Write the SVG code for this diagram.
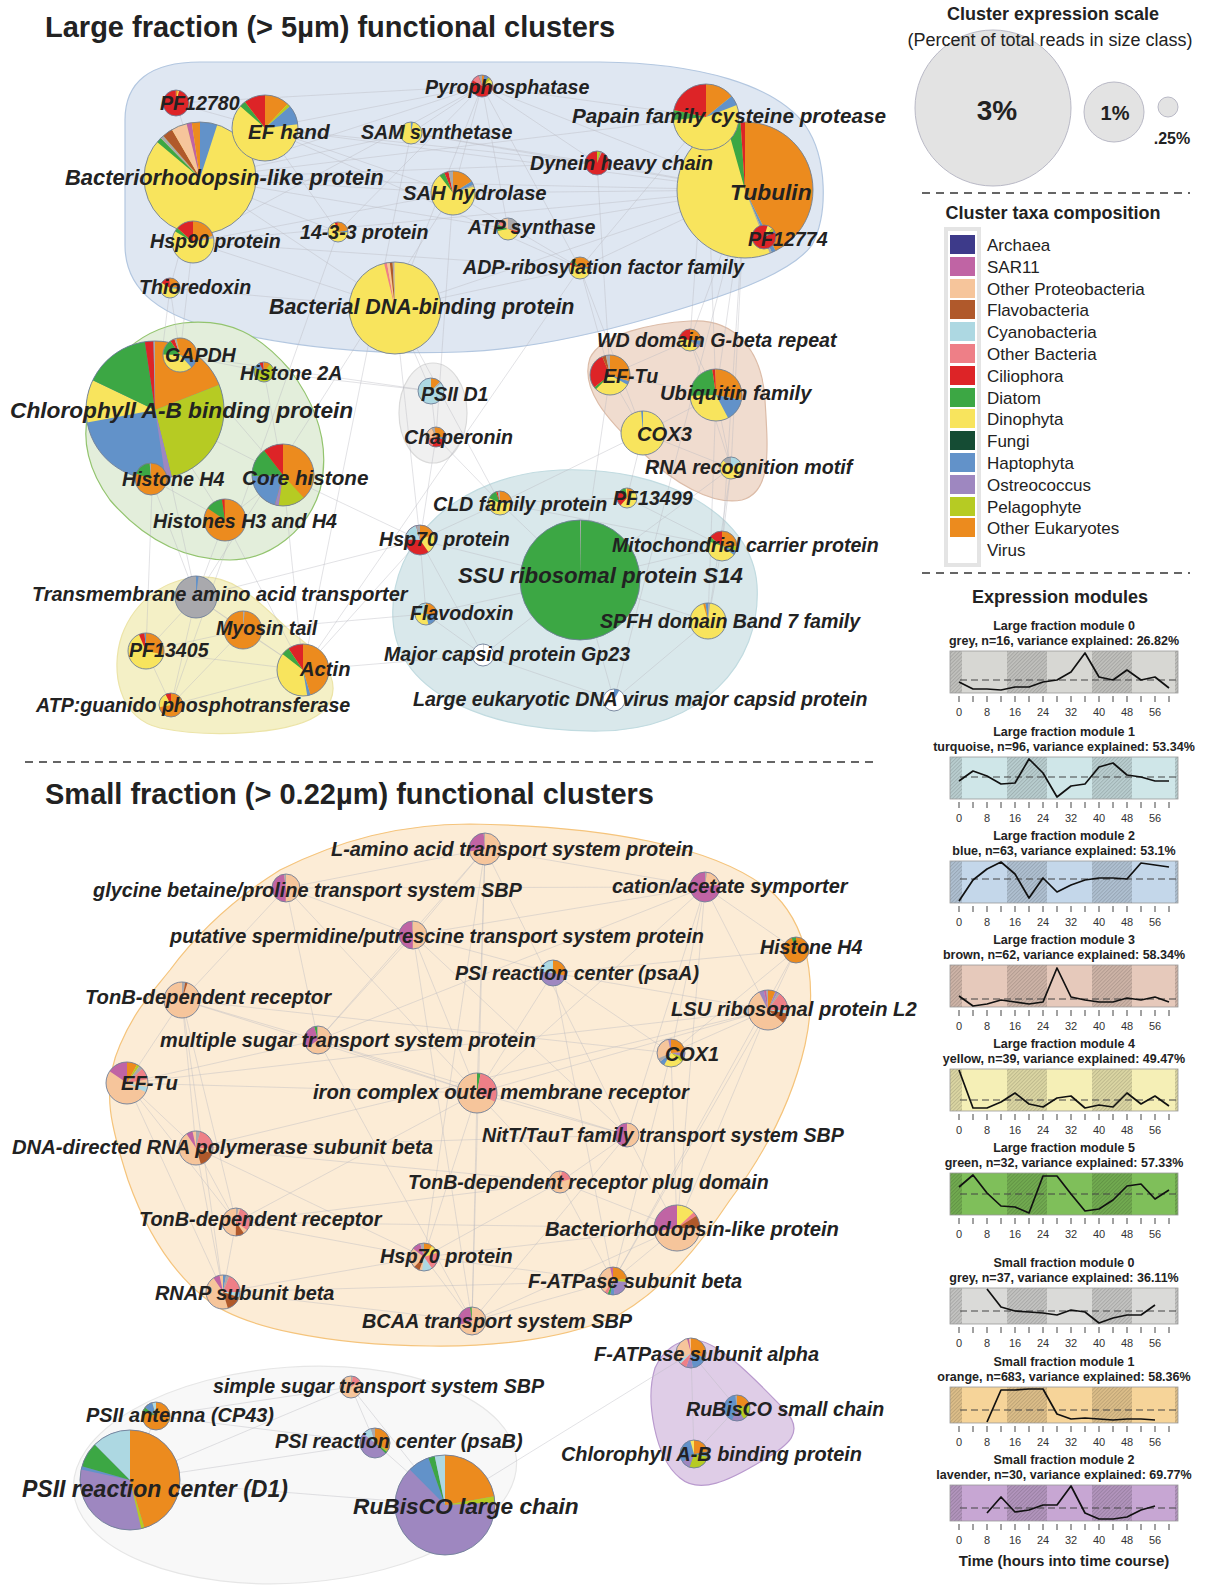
<svg xmlns="http://www.w3.org/2000/svg" xmlns:xlink="http://www.w3.org/1999/xlink" width="1215" height="1591" viewBox="0 0 1215 1591">
<defs>
<style>
text{font-family:"Liberation Sans",Arial,Helvetica,sans-serif;fill:#222}
.l{font-weight:bold;font-style:italic;font-size:19.6px}
.f2{font-size:19.9px}.f4{font-size:20.2px}.f5{font-size:20.7px}.f6{font-size:21.4px}.f7{font-size:21.9px}.f8{font-size:22.2px}.f9{font-size:22.7px}
.h1{font-weight:bold;font-size:29px}
.h2{font-weight:bold;font-size:18px;text-anchor:middle}
.sub{font-size:18px;text-anchor:middle}
.lg{font-size:17px}
.mt{font-weight:bold;font-size:12.5px;text-anchor:middle}
.ax{font-size:11px;text-anchor:middle;fill:#333}
.s{fill:none;stroke-width:31.83}
.o{fill:none;stroke:#6f7f98;stroke-width:.9;vector-effect:non-scaling-stroke}
.ar{stroke:#3d3a8a}.sa{stroke:#c064a4}.pr{stroke:#f6c59b}.fl{stroke:#b0592b}.cy{stroke:#add8e2}.ob{stroke:#ee7f87}.ci{stroke:#dd2427}.di{stroke:#3ca744}.dn{stroke:#f8e45d}.fu{stroke:#154c34}.ha{stroke:#6292c9}.os{stroke:#9e87c0}.pe{stroke:#b6cb23}.oe{stroke:#ec8b1e}.gr{stroke:#a9a9ad}
.e line{stroke:#b9b9c0;stroke-width:.7;stroke-opacity:.6}
.sep{stroke:#333;stroke-width:1.6;stroke-dasharray:8 6;fill:none}
.ts{fill:none;stroke:#111;stroke-width:1.7;stroke-linejoin:round}
.mean{stroke:#444;stroke-width:1.1;stroke-dasharray:7 4}
.tk{stroke:#444;stroke-width:1;fill:none}
.pf{fill:none;stroke:#9a9a9a;stroke-width:.8}
.hu{stroke-width:1.2}
.sc{fill:#e3e3e3;stroke:#b9b9c6;stroke-width:1}
</style>
<pattern id="hatch" width="2.6" height="2.6" patternUnits="userSpaceOnUse" patternTransform="rotate(45)">
<rect width="2.6" height="2.6" fill="#000" fill-opacity=".1"/>
<rect width="1" height="2.6" fill="#000" fill-opacity=".14"/>
</pattern>
<g id="ax">
<path class="tk" d="M959 0v6M973 0v6M987 0v6M1001 0v6M1015 0v6M1029 0v6M1043 0v6M1057 0v6M1071 0v6M1085 0v6M1099 0v6M1113 0v6M1127 0v6M1141 0v6M1155 0v6M1169 0v6"/>
<text class="ax" x="959" y="20">0</text><text class="ax" x="987" y="20">8</text><text class="ax" x="1015" y="20">16</text><text class="ax" x="1043" y="20">24</text><text class="ax" x="1071" y="20">32</text><text class="ax" x="1099" y="20">40</text><text class="ax" x="1127" y="20">48</text><text class="ax" x="1155" y="20">56</text>
</g>
</defs>
<rect width="1215" height="1591" fill="#fff"/>

<!-- Titles -->
<text class="h1" x="45" y="37">Large fraction (&gt; 5µm) functional clusters</text>
<text class="h1" x="45" y="804">Small fraction (&gt; 0.22µm) functional clusters</text>
<line class="sep" x1="25" y1="762" x2="878" y2="762"/>
<line class="sep" x1="922" y1="193" x2="1190" y2="193"/>
<line class="sep" x1="922" y1="573" x2="1190" y2="573"/>

<!-- Cluster hulls -->
<g id="hulls">
<path class="hu" fill="#dfe7f2" stroke="#b3c7e0" d="M200,62 L600,62 C700,63 775,85 805,125 C828,158 828,215 812,245 C790,275 720,298 650,318 C580,338 520,350 460,352 C380,355 300,348 230,332 C160,318 125,290 125,245 L125,120 C125,82 150,62 200,62 Z"/>
<path class="hu" fill="#e3eedb" stroke="#93c46e" d="M183,323 C230,318 260,335 290,370 C320,410 330,450 320,490 C308,530 270,560 230,560 C180,560 140,535 110,500 C88,470 82,440 88,415 C98,370 135,330 183,323 Z"/>
<path class="hu" fill="#f4f0c6" stroke="#ece4a8" d="M200,577 C240,575 265,610 295,635 C330,660 345,690 322,712 C295,735 210,738 160,728 C118,718 110,670 122,635 C135,600 165,579 200,577 Z"/>
<ellipse class="hu" fill="#f0f0f0" stroke="#dadada" cx="433" cy="413" rx="34" ry="50"/>
<path class="hu" fill="#f0dccf" stroke="#dcbca8" d="M690,321 C735,318 762,350 765,400 C768,450 772,492 742,500 C712,506 672,482 642,452 C605,418 580,388 590,358 C602,333 655,323 690,321 Z"/>
<path class="hu" fill="#d9e8eb" stroke="#c1dbe0" d="M560,470 C665,466 752,515 757,585 C762,665 700,730 600,731 C500,732 398,700 393,620 C388,540 460,474 560,470 Z"/>
<path class="hu" fill="#fcecd6" stroke="#f5c47c" d="M470,824 C600,826 720,845 775,895 C815,935 815,1000 805,1045 C790,1110 760,1160 730,1200 C700,1245 665,1288 620,1314 C570,1338 500,1347 430,1346 C330,1345 240,1328 205,1298 C170,1270 145,1228 128,1180 C112,1130 100,1090 120,1045 C135,1010 150,995 170,970 C200,930 240,895 280,870 C340,840 400,824 470,824 Z"/>
<ellipse class="hu" fill="#f8f8f8" stroke="#e6e6e6" cx="295" cy="1475" rx="222" ry="108" transform="rotate(-4 295 1475)"/>
<path class="hu" fill="#dfcde7" stroke="#b99ace" d="M693,1340 C720,1340 760,1385 785,1410 C805,1432 790,1445 760,1462 C730,1480 700,1495 680,1478 C655,1458 645,1400 655,1368 C663,1350 678,1340 693,1340 Z"/>
</g>

<!-- Connectors -->
<g id="connectors" class="e">
<line x1="482" y1="86" x2="200" y2="178"/><line x1="482" y1="86" x2="265" y2="128"/><line x1="482" y1="86" x2="411" y2="133"/><line x1="482" y1="86" x2="453" y2="193"/><line x1="482" y1="86" x2="508" y2="229"/><line x1="482" y1="86" x2="580" y2="268"/><line x1="482" y1="86" x2="597" y2="163"/><line x1="482" y1="86" x2="706" y2="117"/><line x1="482" y1="86" x2="745" y2="190"/><line x1="482" y1="86" x2="395" y2="308"/><line x1="482" y1="86" x2="338" y2="232"/><line x1="482" y1="86" x2="193" y2="242"/><line x1="482" y1="86" x2="176" y2="103"/>
<line x1="200" y1="178" x2="411" y2="133"/><line x1="200" y1="178" x2="453" y2="193"/><line x1="200" y1="178" x2="338" y2="232"/><line x1="200" y1="178" x2="170" y2="288"/><line x1="200" y1="178" x2="395" y2="308"/><line x1="200" y1="178" x2="508" y2="229"/><line x1="200" y1="178" x2="706" y2="117"/><line x1="200" y1="178" x2="597" y2="163"/><line x1="200" y1="178" x2="745" y2="190"/><line x1="200" y1="178" x2="180" y2="355"/>
<line x1="265" y1="128" x2="453" y2="193"/><line x1="265" y1="128" x2="745" y2="190"/><line x1="265" y1="128" x2="597" y2="163"/><line x1="265" y1="128" x2="580" y2="268"/><line x1="265" y1="128" x2="338" y2="232"/><line x1="265" y1="128" x2="176" y2="103"/>
<line x1="193" y1="242" x2="453" y2="193"/><line x1="193" y1="242" x2="745" y2="190"/><line x1="193" y1="242" x2="395" y2="308"/><line x1="193" y1="242" x2="580" y2="268"/>
<line x1="170" y1="288" x2="395" y2="308"/><line x1="170" y1="288" x2="180" y2="355"/><line x1="170" y1="288" x2="155" y2="410"/>
<line x1="411" y1="133" x2="745" y2="190"/><line x1="411" y1="133" x2="597" y2="163"/><line x1="453" y1="193" x2="745" y2="190"/><line x1="453" y1="193" x2="580" y2="268"/><line x1="508" y1="229" x2="745" y2="190"/><line x1="580" y1="268" x2="745" y2="190"/><line x1="597" y1="163" x2="745" y2="190"/><line x1="706" y1="117" x2="580" y2="268"/><line x1="395" y1="308" x2="580" y2="268"/><line x1="395" y1="308" x2="745" y2="190"/><line x1="176" y1="103" x2="200" y2="178"/>
<line x1="745" y1="190" x2="690" y2="340"/><line x1="745" y1="190" x2="716" y2="395"/><line x1="745" y1="190" x2="731" y2="468"/><line x1="745" y1="190" x2="722" y2="546"/><line x1="706" y1="117" x2="690" y2="340"/><line x1="706" y1="117" x2="716" y2="395"/><line x1="580" y1="268" x2="610" y2="375"/><line x1="580" y1="268" x2="643" y2="433"/><line x1="597" y1="163" x2="610" y2="375"/>
<line x1="180" y1="355" x2="264" y2="372"/><line x1="155" y1="410" x2="151" y2="479"/><line x1="155" y1="410" x2="283" y2="475"/><line x1="180" y1="355" x2="283" y2="475"/><line x1="264" y1="372" x2="283" y2="475"/><line x1="225" y1="520" x2="151" y2="479"/><line x1="225" y1="520" x2="283" y2="475"/><line x1="155" y1="410" x2="225" y2="520"/><line x1="283" y1="475" x2="303" y2="670"/><line x1="225" y1="520" x2="196" y2="597"/><line x1="151" y1="479" x2="196" y2="597"/><line x1="155" y1="410" x2="146" y2="651"/>
<line x1="196" y1="597" x2="243" y2="630"/><line x1="196" y1="597" x2="146" y2="651"/><line x1="196" y1="597" x2="303" y2="670"/><line x1="196" y1="597" x2="171" y2="705"/><line x1="243" y1="630" x2="303" y2="670"/><line x1="146" y1="651" x2="303" y2="670"/><line x1="146" y1="651" x2="171" y2="705"/><line x1="303" y1="670" x2="171" y2="705"/><line x1="243" y1="630" x2="171" y2="705"/><line x1="243" y1="630" x2="146" y2="651"/><line x1="303" y1="670" x2="483" y2="655"/><line x1="303" y1="670" x2="420" y2="540"/><line x1="243" y1="630" x2="426" y2="614"/><line x1="196" y1="597" x2="420" y2="540"/>
<line x1="431" y1="391" x2="436" y2="437"/><line x1="431" y1="391" x2="395" y2="308"/><line x1="436" y1="437" x2="500" y2="503"/><line x1="436" y1="437" x2="420" y2="540"/><line x1="431" y1="391" x2="180" y2="355"/>
<line x1="690" y1="340" x2="610" y2="375"/><line x1="690" y1="340" x2="716" y2="395"/><line x1="610" y1="375" x2="716" y2="395"/><line x1="610" y1="375" x2="643" y2="433"/><line x1="716" y1="395" x2="643" y2="433"/><line x1="643" y1="433" x2="731" y2="468"/><line x1="716" y1="395" x2="731" y2="468"/><line x1="690" y1="340" x2="731" y2="468"/><line x1="731" y1="468" x2="722" y2="546"/><line x1="731" y1="468" x2="708" y2="621"/><line x1="643" y1="433" x2="627" y2="498"/>
<line x1="500" y1="503" x2="580" y2="580"/><line x1="500" y1="503" x2="420" y2="540"/><line x1="500" y1="503" x2="627" y2="498"/><line x1="420" y1="540" x2="580" y2="580"/><line x1="420" y1="540" x2="426" y2="614"/><line x1="580" y1="580" x2="722" y2="546"/><line x1="580" y1="580" x2="708" y2="621"/><line x1="580" y1="580" x2="426" y2="614"/><line x1="580" y1="580" x2="483" y2="655"/><line x1="580" y1="580" x2="614" y2="700"/><line x1="722" y1="546" x2="708" y2="621"/><line x1="627" y1="498" x2="722" y2="546"/><line x1="426" y1="614" x2="483" y2="655"/><line x1="483" y1="655" x2="614" y2="700"/><line x1="708" y1="621" x2="614" y2="700"/><line x1="500" y1="503" x2="722" y2="546"/><line x1="420" y1="540" x2="483" y2="655"/>
<line x1="283" y1="475" x2="420" y2="540"/><line x1="264" y1="372" x2="431" y2="391"/><line x1="155" y1="410" x2="196" y2="597"/><line x1="610" y1="375" x2="580" y2="580"/><line x1="716" y1="395" x2="708" y2="621"/><line x1="453" y1="193" x2="436" y2="437"/><line x1="395" y1="308" x2="500" y2="503"/><line x1="225" y1="520" x2="303" y2="670"/><line x1="265" y1="128" x2="200" y2="178"/>
<line x1="338" y1="232" x2="171" y2="705"/><line x1="411" y1="133" x2="303" y2="670"/><line x1="580" y1="268" x2="303" y2="670"/><line x1="453" y1="193" x2="196" y2="597"/><line x1="745" y1="190" x2="614" y2="700"/><line x1="395" y1="308" x2="420" y2="540"/><line x1="643" y1="433" x2="500" y2="503"/><line x1="731" y1="468" x2="580" y2="580"/>
<line x1="485" y1="849" x2="286" y2="888"/><line x1="485" y1="849" x2="705" y2="887"/><line x1="485" y1="849" x2="413" y2="935"/><line x1="485" y1="849" x2="318" y2="1040"/><line x1="485" y1="849" x2="477" y2="1093"/><line x1="485" y1="849" x2="472" y2="1321"/><line x1="485" y1="849" x2="627" y2="1135"/><line x1="485" y1="849" x2="424" y2="1257"/>
<line x1="286" y1="888" x2="413" y2="935"/><line x1="286" y1="888" x2="318" y2="1040"/><line x1="286" y1="888" x2="182" y2="1000"/><line x1="286" y1="888" x2="477" y2="1093"/><line x1="286" y1="888" x2="705" y2="887"/>
<line x1="705" y1="887" x2="413" y2="935"/><line x1="705" y1="887" x2="796" y2="950"/><line x1="705" y1="887" x2="768" y2="1010"/><line x1="705" y1="887" x2="671" y2="1053"/><line x1="705" y1="887" x2="677" y2="1228"/><line x1="705" y1="887" x2="318" y2="1040"/><line x1="705" y1="887" x2="477" y2="1093"/><line x1="705" y1="887" x2="627" y2="1135"/>
<line x1="413" y1="935" x2="318" y2="1040"/><line x1="413" y1="935" x2="477" y2="1093"/><line x1="413" y1="935" x2="472" y2="1321"/><line x1="413" y1="935" x2="627" y2="1135"/><line x1="413" y1="935" x2="553" y2="973"/>
<line x1="796" y1="950" x2="768" y2="1010"/><line x1="796" y1="950" x2="671" y2="1053"/><line x1="796" y1="950" x2="553" y2="973"/><line x1="796" y1="950" x2="613" y2="1281"/>
<line x1="553" y1="973" x2="671" y2="1053"/><line x1="553" y1="973" x2="613" y2="1281"/><line x1="553" y1="973" x2="477" y2="1093"/><line x1="553" y1="973" x2="768" y2="1010"/>
<line x1="182" y1="1000" x2="127" y2="1083"/><line x1="182" y1="1000" x2="318" y2="1040"/><line x1="182" y1="1000" x2="196" y2="1148"/><line x1="182" y1="1000" x2="477" y2="1093"/><line x1="182" y1="1000" x2="236" y2="1222"/><line x1="182" y1="1000" x2="223" y2="1292"/><line x1="182" y1="1000" x2="671" y2="1053"/>
<line x1="318" y1="1040" x2="477" y2="1093"/><line x1="318" y1="1040" x2="627" y2="1135"/><line x1="318" y1="1040" x2="127" y2="1083"/><line x1="318" y1="1040" x2="472" y2="1321"/>
<line x1="768" y1="1010" x2="671" y2="1053"/><line x1="768" y1="1010" x2="127" y2="1083"/><line x1="768" y1="1010" x2="677" y2="1228"/><line x1="768" y1="1010" x2="613" y2="1281"/><line x1="768" y1="1010" x2="477" y2="1093"/><line x1="768" y1="1010" x2="196" y2="1148"/>
<line x1="671" y1="1053" x2="613" y2="1281"/><line x1="671" y1="1053" x2="677" y2="1228"/>
<line x1="127" y1="1083" x2="196" y2="1148"/><line x1="127" y1="1083" x2="477" y2="1093"/><line x1="127" y1="1083" x2="236" y2="1222"/><line x1="127" y1="1083" x2="223" y2="1292"/>
<line x1="477" y1="1093" x2="627" y2="1135"/><line x1="477" y1="1093" x2="560" y2="1182"/><line x1="477" y1="1093" x2="424" y2="1257"/><line x1="477" y1="1093" x2="472" y2="1321"/><line x1="477" y1="1093" x2="236" y2="1222"/>
<line x1="196" y1="1148" x2="236" y2="1222"/><line x1="196" y1="1148" x2="223" y2="1292"/><line x1="196" y1="1148" x2="560" y2="1182"/><line x1="196" y1="1148" x2="627" y2="1135"/><line x1="196" y1="1148" x2="424" y2="1257"/>
<line x1="627" y1="1135" x2="560" y2="1182"/><line x1="627" y1="1135" x2="677" y2="1228"/><line x1="627" y1="1135" x2="472" y2="1321"/>
<line x1="560" y1="1182" x2="677" y2="1228"/><line x1="560" y1="1182" x2="236" y2="1222"/><line x1="560" y1="1182" x2="613" y2="1281"/><line x1="560" y1="1182" x2="424" y2="1257"/>
<line x1="236" y1="1222" x2="223" y2="1292"/><line x1="236" y1="1222" x2="424" y2="1257"/><line x1="236" y1="1222" x2="677" y2="1228"/>
<line x1="677" y1="1228" x2="613" y2="1281"/><line x1="677" y1="1228" x2="424" y2="1257"/><line x1="677" y1="1228" x2="472" y2="1321"/>
<line x1="424" y1="1257" x2="613" y2="1281"/><line x1="424" y1="1257" x2="223" y2="1292"/><line x1="424" y1="1257" x2="472" y2="1321"/>
<line x1="613" y1="1281" x2="472" y2="1321"/><line x1="613" y1="1281" x2="223" y2="1292"/><line x1="223" y1="1292" x2="472" y2="1321"/>
<line x1="156" y1="1416" x2="130" y2="1480"/><line x1="156" y1="1416" x2="351" y2="1387"/><line x1="156" y1="1416" x2="375" y2="1443"/><line x1="351" y1="1387" x2="375" y2="1443"/><line x1="351" y1="1387" x2="445" y2="1505"/><line x1="375" y1="1443" x2="445" y2="1505"/><line x1="130" y1="1480" x2="375" y2="1443"/><line x1="130" y1="1480" x2="445" y2="1505"/><line x1="130" y1="1480" x2="351" y2="1387"/>
<line x1="691" y1="1353" x2="737" y2="1408"/><line x1="691" y1="1353" x2="694" y2="1454"/><line x1="737" y1="1408" x2="694" y2="1454"/><line x1="445" y1="1505" x2="691" y2="1353"/>
</g>

<!-- Large fraction nodes -->
<g id="lf-chlorophyll-ab"><g transform="translate(155 410) scale(2.1677) rotate(-90)"><circle r="31.83" fill="#6292c9"/><circle class="s oe" r="15.92" stroke-dasharray="19 100"/><circle class="s pe" r="15.92" stroke-dasharray="27 100" stroke-dashoffset="-19"/><circle class="s os" r="15.92" stroke-dasharray="1.5 100" stroke-dashoffset="-46"/><circle class="s dn" r="15.92" stroke-dasharray="10 100" stroke-dashoffset="-72"/><circle class="s di" r="15.92" stroke-dasharray="15.5 100" stroke-dashoffset="-82"/><circle class="s ci" r="15.92" stroke-dasharray="2 100" stroke-dashoffset="-97.5"/><circle class="s gr" r="15.92" stroke-dasharray="0.5 100" stroke-dashoffset="-99.5"/><circle class="o" r="31.83"/></g><text class="l f9" x="10" y="418">Chlorophyll A-B binding protein</text></g>
<g id="lf-tubulin"><g transform="translate(745 190) scale(2.1363) rotate(-90)"><circle r="31.83" fill="#f8e45d"/><circle class="s oe" r="15.92" stroke-dasharray="42.5 100"/><circle class="s ha" r="15.92" stroke-dasharray="1 100" stroke-dashoffset="-42.5"/><circle class="s gr" r="15.92" stroke-dasharray="0.5 100" stroke-dashoffset="-43.5"/><circle class="s di" r="15.92" stroke-dasharray="3.3 100" stroke-dashoffset="-95.5"/><circle class="s ci" r="15.92" stroke-dasharray="1.2 100" stroke-dashoffset="-98.8"/><circle class="o" r="31.83"/></g><text class="l f9" x="730" y="200">Tubulin</text></g>
<g id="lf-ssu-s14"><g transform="translate(580 580) scale(1.885) rotate(-90)"><circle r="31.83" fill="#3ca744"/><circle class="s gr" r="15.92" stroke-dasharray="0.3 100"/><circle class="o" r="31.83"/></g><text class="l f8" x="458" y="583">SSU ribosomal protein S14</text></g>
<g id="lf-bacteriorhodopsin"><g transform="translate(200 178) scale(1.7593) rotate(-90)"><circle r="31.83" fill="#f8e45d"/><circle class="s ha" r="15.92" stroke-dasharray="5 100"/><circle class="s di" r="15.92" stroke-dasharray="1.5 100" stroke-dashoffset="-86"/><circle class="s gr" r="15.92" stroke-dasharray="1 100" stroke-dashoffset="-87.5"/><circle class="s fl" r="15.92" stroke-dasharray="3 100" stroke-dashoffset="-88.5"/><circle class="s pr" r="15.92" stroke-dasharray="4.5 100" stroke-dashoffset="-91.5"/><circle class="s sa" r="15.92" stroke-dasharray="1.5 100" stroke-dashoffset="-96"/><circle class="s oe" r="15.92" stroke-dasharray="2.5 100" stroke-dashoffset="-97.5"/><circle class="o" r="31.83"/></g><text class="l f7" x="65" y="185">Bacteriorhodopsin-like protein</text></g>
<g id="lf-bacterial-dna-binding"><g transform="translate(395 308) scale(1.4451) rotate(-90)"><circle r="31.83" fill="#f8e45d"/><circle class="s ob" r="15.92" stroke-dasharray="1 100" stroke-dashoffset="-95.5"/><circle class="s pr" r="15.92" stroke-dasharray="1 100" stroke-dashoffset="-96.5"/><circle class="s fl" r="15.92" stroke-dasharray="1 100" stroke-dashoffset="-97.5"/><circle class="s gr" r="15.92" stroke-dasharray="0.7 100" stroke-dashoffset="-98.5"/><circle class="s pr" r="15.92" stroke-dasharray="0.8 100" stroke-dashoffset="-99.2"/><circle class="o" r="31.83"/></g><text class="l f6" x="269" y="314">Bacterial DNA-binding protein</text></g>
<g id="lf-ef-hand"><g transform="translate(265 128) scale(1.0367) rotate(-90)"><circle r="31.83" fill="#f8e45d"/><circle class="s oe" r="15.92" stroke-dasharray="12 100"/><circle class="s pe" r="15.92" stroke-dasharray="1.5 100" stroke-dashoffset="-12"/><circle class="s ha" r="15.92" stroke-dasharray="9.5 100" stroke-dashoffset="-13.5"/><circle class="s di" r="15.92" stroke-dasharray="3 100" stroke-dashoffset="-86"/><circle class="s ci" r="15.92" stroke-dasharray="11 100" stroke-dashoffset="-89"/><circle class="o" r="31.83"/></g><text class="l f5" x="248" y="139">EF hand</text></g>
<g id="lf-papain"><g transform="translate(706 117) scale(1.0367) rotate(-90)"><circle r="31.83" fill="#f8e45d"/><circle class="s oe" r="15.92" stroke-dasharray="14 100"/><circle class="s ha" r="15.92" stroke-dasharray="5 100" stroke-dashoffset="-14"/><circle class="s di" r="15.92" stroke-dasharray="5 100" stroke-dashoffset="-73"/><circle class="s ci" r="15.92" stroke-dasharray="22 100" stroke-dashoffset="-78"/><circle class="o" r="31.83"/></g><text class="l f5" x="572" y="123">Papain family cysteine protease</text></g>
<g id="lf-core-histone"><g transform="translate(283 475) scale(0.9739) rotate(-90)"><circle r="31.83" fill="#ec8b1e"/><circle class="s pe" r="15.92" stroke-dasharray="14 100" stroke-dashoffset="-38"/><circle class="s os" r="15.92" stroke-dasharray="2 100" stroke-dashoffset="-52"/><circle class="s ha" r="15.92" stroke-dasharray="20 100" stroke-dashoffset="-54"/><circle class="s di" r="15.92" stroke-dasharray="15 100" stroke-dashoffset="-74"/><circle class="s ci" r="15.92" stroke-dasharray="11 100" stroke-dashoffset="-89"/><circle class="o" r="31.83"/></g><text class="l f5" x="242" y="485">Core histone</text></g>
<g id="lf-actin"><g transform="translate(303 670) scale(0.8168) rotate(-90)"><circle r="31.83" fill="#f8e45d"/><circle class="s oe" r="15.92" stroke-dasharray="45 100"/><circle class="s ha" r="15.92" stroke-dasharray="2 100" stroke-dashoffset="-45"/><circle class="s di" r="15.92" stroke-dasharray="5 100" stroke-dashoffset="-85"/><circle class="s ci" r="15.92" stroke-dasharray="10 100" stroke-dashoffset="-90"/><circle class="o" r="31.83"/></g><text class="l f4" x="300" y="676">Actin</text></g>
<g id="lf-ubiquitin"><g transform="translate(716 395) scale(0.8168) rotate(-90)"><circle r="31.83" fill="#f8e45d"/><circle class="s oe" r="15.92" stroke-dasharray="28 100"/><circle class="s ha" r="15.92" stroke-dasharray="14 100" stroke-dashoffset="-28"/><circle class="s di" r="15.92" stroke-dasharray="23 100" stroke-dashoffset="-74"/><circle class="s ci" r="15.92" stroke-dasharray="2 100" stroke-dashoffset="-97"/><circle class="o" r="31.83"/></g><text class="l f4" x="660" y="400">Ubiquitin family</text></g>
<g id="lf-sah-hydrolase"><g transform="translate(453 193) scale(0.6912) rotate(-90)"><circle r="31.83" fill="#f8e45d"/><circle class="s oe" r="15.92" stroke-dasharray="16 100"/><circle class="s ha" r="15.92" stroke-dasharray="3 100" stroke-dashoffset="-16"/><circle class="s gr" r="15.92" stroke-dasharray="1 100" stroke-dashoffset="-19"/><circle class="s di" r="15.92" stroke-dasharray="4 100" stroke-dashoffset="-89"/><circle class="s ci" r="15.92" stroke-dasharray="3 100" stroke-dashoffset="-93"/><circle class="s gr" r="15.92" stroke-dasharray="4 100" stroke-dashoffset="-96"/><circle class="o" r="31.83"/></g><text class="l f4" x="403" y="200">SAH hydrolase</text></g>
<g id="lf-cox3"><g transform="translate(643 433) scale(0.6912) rotate(-90)"><circle r="31.83" fill="#f8e45d"/><circle class="s ha" r="15.92" stroke-dasharray="1.5 100" stroke-dashoffset="-98"/><circle class="s gr" r="15.92" stroke-dasharray="0.5 100" stroke-dashoffset="-99.5"/><circle class="o" r="31.83"/></g><text class="l f4" x="637" y="441">COX3</text></g>
<g id="lf-hsp90"><g transform="translate(193 242) scale(0.6597) rotate(-90)"><circle r="31.83" fill="#f8e45d"/><circle class="s oe" r="15.92" stroke-dasharray="20 100"/><circle class="s gr" r="15.92" stroke-dasharray="2 100" stroke-dashoffset="-20"/><circle class="s di" r="15.92" stroke-dasharray="3 100" stroke-dashoffset="-83"/><circle class="s ci" r="15.92" stroke-dasharray="14 100" stroke-dashoffset="-86"/><circle class="o" r="31.83"/></g><text class="l" x="150" y="248">Hsp90 protein</text></g>
<g id="lf-histones-h3-h4"><g transform="translate(225 520) scale(0.6597) rotate(-90)"><circle r="31.83" fill="#ec8b1e"/><circle class="s di" r="15.92" stroke-dasharray="13 100" stroke-dashoffset="-84"/><circle class="s ci" r="15.92" stroke-dasharray="2 100" stroke-dashoffset="-97"/><circle class="o" r="31.83"/></g><text class="l" x="153" y="528">Histones H3 and H4</text></g>
<g id="lf-transmembrane"><g transform="translate(196 597) scale(0.6597) rotate(-90)"><circle r="31.83" fill="#a9a9ad"/><circle class="s ha" r="15.92" stroke-dasharray="2 100"/><circle class="o" r="31.83"/></g><text class="l f2" x="32" y="601">Transmembrane amino acid transporter</text></g>
<g id="lf-ef-tu"><g transform="translate(610 375) scale(0.6283) rotate(-90)"><circle r="31.83" fill="#f8e45d"/><circle class="s oe" r="15.92" stroke-dasharray="30 100"/><circle class="s ha" r="15.92" stroke-dasharray="3 100" stroke-dashoffset="-30"/><circle class="s di" r="15.92" stroke-dasharray="2 100" stroke-dashoffset="-62"/><circle class="s ci" r="15.92" stroke-dasharray="29 100" stroke-dashoffset="-64"/><circle class="s fl" r="15.92" stroke-dasharray="3 100" stroke-dashoffset="-93"/><circle class="s gr" r="15.92" stroke-dasharray="4 100" stroke-dashoffset="-96"/><circle class="o" r="31.83"/></g><text class="l" x="603" y="383">EF-Tu</text></g>
<g id="lf-myosin-tail"><g transform="translate(243 630) scale(0.5969) rotate(-90)"><circle r="31.83" fill="#ec8b1e"/><circle class="s gr" r="15.92" stroke-dasharray="1.5 100"/><circle class="o" r="31.83"/></g><text class="l" x="216" y="635">Myosin tail</text></g>
<g id="lf-spfh"><g transform="translate(708 621) scale(0.5655) rotate(-90)"><circle r="31.83" fill="#f8e45d"/><circle class="s gr" r="15.92" stroke-dasharray="2 100"/><circle class="s oe" r="15.92" stroke-dasharray="2 100" stroke-dashoffset="-95"/><circle class="s ha" r="15.92" stroke-dasharray="3 100" stroke-dashoffset="-97"/><circle class="o" r="31.83"/></g><text class="l" x="600" y="628">SPFH domain Band 7 family</text></g>
<g id="lf-pf13405"><g transform="translate(146 651) scale(0.5655) rotate(-90)"><circle r="31.83" fill="#f8e45d"/><circle class="s oe" r="15.92" stroke-dasharray="28 100"/><circle class="s ci" r="15.92" stroke-dasharray="5 100" stroke-dashoffset="-93"/><circle class="s ha" r="15.92" stroke-dasharray="2 100" stroke-dashoffset="-98"/><circle class="o" r="31.83"/></g><text class="l" x="129" y="657">PF13405</text></g>
<g id="lf-gapdh"><g transform="translate(180 355) scale(0.5341) rotate(-90)"><circle r="31.83" fill="#f8e45d"/><circle class="s oe" r="15.92" stroke-dasharray="30 100"/><circle class="s ha" r="15.92" stroke-dasharray="8 100" stroke-dashoffset="-30"/><circle class="s di" r="15.92" stroke-dasharray="15 100" stroke-dashoffset="-75"/><circle class="s ci" r="15.92" stroke-dasharray="4 100" stroke-dashoffset="-90"/><circle class="s gr" r="15.92" stroke-dasharray="2 100" stroke-dashoffset="-94"/><circle class="s oe" r="15.92" stroke-dasharray="4 100" stroke-dashoffset="-96"/><circle class="o" r="31.83"/></g><text class="l" x="165" y="362">GAPDH</text></g>
<g id="lf-histone-h4"><g transform="translate(151 479) scale(0.5027) rotate(-90)"><circle r="31.83" fill="#ec8b1e"/><circle class="s di" r="15.92" stroke-dasharray="18 100" stroke-dashoffset="-80"/><circle class="s gr" r="15.92" stroke-dasharray="2 100" stroke-dashoffset="-98"/><circle class="o" r="31.83"/></g><text class="l" x="122" y="486">Histone H4</text></g>
<g id="lf-hsp70"><g transform="translate(420 540) scale(0.4712) rotate(-90)"><circle r="31.83" fill="#dd2427"/><circle class="s oe" r="15.92" stroke-dasharray="18 100"/><circle class="s dn" r="15.92" stroke-dasharray="22 100" stroke-dashoffset="-18"/><circle class="s cy" r="15.92" stroke-dasharray="20 100" stroke-dashoffset="-75"/><circle class="s gr" r="15.92" stroke-dasharray="5 100" stroke-dashoffset="-95"/><circle class="o" r="31.83"/></g><text class="l" x="379" y="546">Hsp70 protein</text></g>
<g id="lf-mito-carrier"><g transform="translate(722 546) scale(0.4712) rotate(-90)"><circle r="31.83" fill="#f8e45d"/><circle class="s oe" r="15.92" stroke-dasharray="25 100"/><circle class="s pe" r="15.92" stroke-dasharray="5 100" stroke-dashoffset="-25"/><circle class="s ha" r="15.92" stroke-dasharray="5 100" stroke-dashoffset="-30"/><circle class="s di" r="15.92" stroke-dasharray="5 100" stroke-dashoffset="-80"/><circle class="s ci" r="15.92" stroke-dasharray="15 100" stroke-dashoffset="-85"/><circle class="o" r="31.83"/></g><text class="l" x="612" y="552">Mitochondrial carrier protein</text></g>
<g id="lf-pf12780"><g transform="translate(176 103) scale(0.4084) rotate(-90)"><circle r="31.83" fill="#dd2427"/><circle class="s oe" r="15.92" stroke-dasharray="2 100"/><circle class="s dn" r="15.92" stroke-dasharray="2 100" stroke-dashoffset="-2"/><circle class="s gr" r="15.92" stroke-dasharray="3 100" stroke-dashoffset="-97"/><circle class="o" r="31.83"/></g><text class="l" x="160" y="110">PF12780</text></g>
<g id="lf-psii-d1"><g transform="translate(431 391) scale(0.4084) rotate(-90)"><circle r="31.83" fill="#add8e2"/><circle class="s oe" r="15.92" stroke-dasharray="12 100"/><circle class="s gr" r="15.92" stroke-dasharray="2 100" stroke-dashoffset="-12"/><circle class="o" r="31.83"/></g><text class="l" x="421" y="401">PSII D1</text></g>
<g id="lf-pf12774"><g transform="translate(764 237) scale(0.377) rotate(-90)"><circle r="31.83" fill="#dd2427"/><circle class="s dn" r="15.92" stroke-dasharray="7 100" stroke-dashoffset="-5"/><circle class="s pe" r="15.92" stroke-dasharray="4 100" stroke-dashoffset="-12"/><circle class="s ha" r="15.92" stroke-dasharray="2 100" stroke-dashoffset="-16"/><circle class="o" r="31.83"/></g><text class="l" x="748" y="246">PF12774</text></g>
<g id="lf-dynein"><g transform="translate(597 163) scale(0.377) rotate(-90)"><circle r="31.83" fill="#dd2427"/><circle class="s pe" r="15.92" stroke-dasharray="5 100"/><circle class="s gr" r="15.92" stroke-dasharray="2 100" stroke-dashoffset="-5"/><circle class="o" r="31.83"/></g><text class="l" x="530" y="170">Dynein heavy chain</text></g>
<g id="lf-cld"><g transform="translate(500 503) scale(0.377) rotate(-90)"><circle r="31.83" fill="#f8e45d"/><circle class="s oe" r="15.92" stroke-dasharray="20 100"/><circle class="s ha" r="15.92" stroke-dasharray="4 100" stroke-dashoffset="-20"/><circle class="s di" r="15.92" stroke-dasharray="12 100" stroke-dashoffset="-80"/><circle class="s ci" r="15.92" stroke-dasharray="2 100" stroke-dashoffset="-92"/><circle class="s gr" r="15.92" stroke-dasharray="6 100" stroke-dashoffset="-94"/><circle class="o" r="31.83"/></g><text class="l" x="433" y="511">CLD family protein</text></g>
<g id="lf-atp-guanido"><g transform="translate(171 705) scale(0.377) rotate(-90)"><circle r="31.83" fill="#ec8b1e"/><circle class="s dn" r="15.92" stroke-dasharray="20 100" stroke-dashoffset="-70"/><circle class="s ci" r="15.92" stroke-dasharray="8 100" stroke-dashoffset="-90"/><circle class="o" r="31.83"/></g><text class="l" x="36" y="712">ATP:guanido phosphotransferase</text></g>
<g id="lf-sam-synthetase"><g transform="translate(411 133) scale(0.3456) rotate(-90)"><circle r="31.83" fill="#f8e45d"/><circle class="s ha" r="15.92" stroke-dasharray="3 100"/><circle class="s gr" r="15.92" stroke-dasharray="3 100" stroke-dashoffset="-97"/><circle class="o" r="31.83"/></g><text class="l" x="361" y="139">SAM synthetase</text></g>
<g id="lf-pyrophosphatase"><g transform="translate(482 86) scale(0.3456) rotate(-90)"><circle r="31.83" fill="#dd2427"/><circle class="s oe" r="15.92" stroke-dasharray="4 100"/><circle class="s ha" r="15.92" stroke-dasharray="6 100" stroke-dashoffset="-4"/><circle class="s pe" r="15.92" stroke-dasharray="4 100" stroke-dashoffset="-10"/><circle class="s dn" r="15.92" stroke-dasharray="8 100" stroke-dashoffset="-14"/><circle class="s ob" r="15.92" stroke-dasharray="10 100" stroke-dashoffset="-82"/><circle class="s gr" r="15.92" stroke-dasharray="8 100" stroke-dashoffset="-92"/><circle class="o" r="31.83"/></g><text class="l" x="425" y="94">Pyrophosphatase</text></g>
<g id="lf-atp-synthase"><g transform="translate(508 229) scale(0.3456) rotate(-90)"><circle r="31.83" fill="#f8e45d"/><circle class="s gr" r="15.92" stroke-dasharray="28 100"/><circle class="s ci" r="15.92" stroke-dasharray="3 100" stroke-dashoffset="-28"/><circle class="s di" r="15.92" stroke-dasharray="10 100" stroke-dashoffset="-70"/><circle class="s ob" r="15.92" stroke-dasharray="6 100" stroke-dashoffset="-80"/><circle class="s pr" r="15.92" stroke-dasharray="14 100" stroke-dashoffset="-86"/><circle class="o" r="31.83"/></g><text class="l" x="468" y="234">ATP synthase</text></g>
<g id="lf-adp-ribosylation"><g transform="translate(580 268) scale(0.3456) rotate(-90)"><circle r="31.83" fill="#f8e45d"/><circle class="s oe" r="15.92" stroke-dasharray="22 100"/><circle class="s ha" r="15.92" stroke-dasharray="4 100" stroke-dashoffset="-22"/><circle class="s ci" r="15.92" stroke-dasharray="4 100" stroke-dashoffset="-78"/><circle class="s di" r="15.92" stroke-dasharray="4 100" stroke-dashoffset="-82"/><circle class="s oe" r="15.92" stroke-dasharray="14 100" stroke-dashoffset="-86"/><circle class="o" r="31.83"/></g><text class="l" x="463" y="274">ADP-ribosylation factor family</text></g>
<g id="lf-wd-domain"><g transform="translate(690 340) scale(0.3456) rotate(-90)"><circle r="31.83" fill="#f8e45d"/><circle class="s oe" r="15.92" stroke-dasharray="25 100"/><circle class="s ha" r="15.92" stroke-dasharray="8 100" stroke-dashoffset="-25"/><circle class="s os" r="15.92" stroke-dasharray="4 100" stroke-dashoffset="-33"/><circle class="s ci" r="15.92" stroke-dasharray="25 100" stroke-dashoffset="-75"/><circle class="o" r="31.83"/></g><text class="l" x="597" y="347">WD domain G-beta repeat</text></g>
<g id="lf-rna-recognition"><g transform="translate(731 468) scale(0.3456) rotate(-90)"><circle r="31.83" fill="#f8e45d"/><circle class="s cy" r="15.92" stroke-dasharray="15 100"/><circle class="s gr" r="15.92" stroke-dasharray="15 100" stroke-dashoffset="-85"/><circle class="o" r="31.83"/></g><text class="l" x="645" y="474">RNA recognition motif</text></g>
<g id="lf-flavodoxin"><g transform="translate(426 614) scale(0.3456) rotate(-90)"><circle r="31.83" fill="#f8e45d"/><circle class="s oe" r="15.92" stroke-dasharray="25 100"/><circle class="s ha" r="15.92" stroke-dasharray="20 100" stroke-dashoffset="-25"/><circle class="s cy" r="15.92" stroke-dasharray="25 100" stroke-dashoffset="-75"/><circle class="o" r="31.83"/></g><text class="l" x="410" y="620">Flavodoxin</text></g>
<g id="lf-capsid-gp23"><g transform="translate(483 655) scale(0.3456) rotate(-90)"><circle r="31.83" fill="#fff"/><circle class="s gr" r="15.92" stroke-dasharray="1 100"/><circle class="o" r="31.83"/></g><text class="l" x="384" y="661">Major capsid protein Gp23</text></g>
<g id="lf-large-euk-virus"><g transform="translate(614 700) scale(0.3456) rotate(-90)"><circle r="31.83" fill="#fff"/><circle class="s ha" r="15.92" stroke-dasharray="8 100"/><circle class="o" r="31.83"/></g><text class="l" x="413" y="706">Large eukaryotic DNA virus major capsid protein</text></g>
<g id="lf-thioredoxin"><g transform="translate(170 288) scale(0.3142) rotate(-90)"><circle r="31.83" fill="#f8e45d"/><circle class="s oe" r="15.92" stroke-dasharray="22 100"/><circle class="s ha" r="15.92" stroke-dasharray="4 100" stroke-dashoffset="-22"/><circle class="s ci" r="15.92" stroke-dasharray="15 100" stroke-dashoffset="-82"/><circle class="s gr" r="15.92" stroke-dasharray="3 100" stroke-dashoffset="-97"/><circle class="o" r="31.83"/></g><text class="l" x="139" y="294">Thioredoxin</text></g>
<g id="lf-14-3-3"><g transform="translate(338 232) scale(0.3142) rotate(-90)"><circle r="31.83" fill="#f8e45d"/><circle class="s oe" r="15.92" stroke-dasharray="22 100"/><circle class="s ha" r="15.92" stroke-dasharray="3 100" stroke-dashoffset="-22"/><circle class="s ci" r="15.92" stroke-dasharray="5 100" stroke-dashoffset="-92"/><circle class="o" r="31.83"/></g><text class="l" x="300" y="239">14-3-3 protein</text></g>
<g id="lf-histone-2a"><g transform="translate(264 372) scale(0.3142) rotate(-90)"><circle r="31.83" fill="#b6cb23"/><circle class="s oe" r="15.92" stroke-dasharray="10 100"/><circle class="s ha" r="15.92" stroke-dasharray="10 100" stroke-dashoffset="-80"/><circle class="s ci" r="15.92" stroke-dasharray="6 100" stroke-dashoffset="-90"/><circle class="s os" r="15.92" stroke-dasharray="4 100" stroke-dashoffset="-96"/><circle class="o" r="31.83"/></g><text class="l" x="240" y="380">Histone 2A</text></g>
<g id="lf-chaperonin"><g transform="translate(436 437) scale(0.3142) rotate(-90)"><circle r="31.83" fill="#ec8b1e"/><circle class="s ha" r="15.92" stroke-dasharray="5 100" stroke-dashoffset="-25"/><circle class="s ci" r="15.92" stroke-dasharray="25 100" stroke-dashoffset="-30"/><circle class="s ob" r="15.92" stroke-dasharray="15 100" stroke-dashoffset="-55"/><circle class="s pr" r="15.92" stroke-dasharray="20 100" stroke-dashoffset="-70"/><circle class="s gr" r="15.92" stroke-dasharray="5 100" stroke-dashoffset="-90"/><circle class="o" r="31.83"/></g><text class="l" x="404" y="444">Chaperonin</text></g>
<g id="lf-pf13499"><g transform="translate(627 498) scale(0.3142) rotate(-90)"><circle r="31.83" fill="#f8e45d"/><circle class="s oe" r="15.92" stroke-dasharray="10 100"/><circle class="s ci" r="15.92" stroke-dasharray="25 100" stroke-dashoffset="-60"/><circle class="s di" r="15.92" stroke-dasharray="10 100" stroke-dashoffset="-85"/><circle class="o" r="31.83"/></g><text class="l" x="613" y="505">PF13499</text></g>

<!-- Small fraction nodes -->
<g id="sf-psii-d1"><g transform="translate(130 1480) scale(1.5708) rotate(-90)"><circle r="31.83" fill="#9e87c0"/><circle class="s oe" r="15.92" stroke-dasharray="45 100"/><circle class="s pe" r="15.92" stroke-dasharray="1 100" stroke-dashoffset="-45"/><circle class="s ha" r="15.92" stroke-dasharray="1 100" stroke-dashoffset="-78"/><circle class="s di" r="15.92" stroke-dasharray="8 100" stroke-dashoffset="-79"/><circle class="s cy" r="15.92" stroke-dasharray="13 100" stroke-dashoffset="-87"/><circle class="o" r="31.83"/></g><text class="l" x="22" y="1497" style="font-size:23px">PSII reaction center (D1)</text></g>
<g id="sf-rubisco-large"><g transform="translate(445 1505) scale(1.5708) rotate(-90)"><circle r="31.83" fill="#9e87c0"/><circle class="s oe" r="15.92" stroke-dasharray="22 100"/><circle class="s pe" r="15.92" stroke-dasharray="2 100" stroke-dashoffset="-22"/><circle class="s ha" r="15.92" stroke-dasharray="7 100" stroke-dashoffset="-87"/><circle class="s di" r="15.92" stroke-dasharray="2 100" stroke-dashoffset="-94"/><circle class="s cy" r="15.92" stroke-dasharray="3.5 100" stroke-dashoffset="-96"/><circle class="s gr" r="15.92" stroke-dasharray="0.5 100" stroke-dashoffset="-99.5"/><circle class="o" r="31.83"/></g><text class="l f9" x="353" y="1514">RuBisCO large chain</text></g>
<g id="sf-bacteriorhodopsin"><g transform="translate(677 1228) scale(0.7226) rotate(-90)"><circle r="31.83" fill="#f6c59b"/><circle class="s dn" r="15.92" stroke-dasharray="13 100"/><circle class="s ob" r="15.92" stroke-dasharray="3 100" stroke-dashoffset="-13"/><circle class="s fl" r="15.92" stroke-dasharray="9 100" stroke-dashoffset="-16"/><circle class="s sa" r="15.92" stroke-dasharray="28 100" stroke-dashoffset="-72"/><circle class="o" r="31.83"/></g><text class="l f4" x="545" y="1236">Bacteriorhodopsin-like protein</text></g>
<g id="sf-ef-tu"><g transform="translate(127 1083) scale(0.6597) rotate(-90)"><circle r="31.83" fill="#f6c59b"/><circle class="s oe" r="15.92" stroke-dasharray="8 100"/><circle class="s pe" r="15.92" stroke-dasharray="2 100" stroke-dashoffset="-8"/><circle class="s gr" r="15.92" stroke-dasharray="3 100" stroke-dashoffset="-10"/><circle class="s ob" r="15.92" stroke-dasharray="9 100" stroke-dashoffset="-13"/><circle class="s cy" r="15.92" stroke-dasharray="4 100" stroke-dashoffset="-28"/><circle class="s sa" r="15.92" stroke-dasharray="16 100" stroke-dashoffset="-84"/><circle class="o" r="31.83"/></g><text class="l f4" x="121" y="1090">EF-Tu</text></g>
<g id="sf-lsu-l2"><g transform="translate(768 1010) scale(0.6283) rotate(-90)"><circle r="31.83" fill="#f6c59b"/><circle class="s oe" r="15.92" stroke-dasharray="6 100"/><circle class="s os" r="15.92" stroke-dasharray="2 100" stroke-dashoffset="-6"/><circle class="s gr" r="15.92" stroke-dasharray="2 100" stroke-dashoffset="-8"/><circle class="s ob" r="15.92" stroke-dasharray="15 100" stroke-dashoffset="-10"/><circle class="s cy" r="15.92" stroke-dasharray="3 100" stroke-dashoffset="-25"/><circle class="s fl" r="15.92" stroke-dasharray="8 100" stroke-dashoffset="-28"/><circle class="s os" r="15.92" stroke-dasharray="4 100" stroke-dashoffset="-92"/><circle class="s sa" r="15.92" stroke-dasharray="2 100" stroke-dashoffset="-96"/><circle class="s gr" r="15.92" stroke-dasharray="2 100" stroke-dashoffset="-98"/><circle class="o" r="31.83"/></g><text class="l f4" x="671" y="1016">LSU ribosomal protein L2</text></g>
<g id="sf-iron-complex"><g transform="translate(477 1093) scale(0.6283) rotate(-90)"><circle r="31.83" fill="#f6c59b"/><circle class="s di" r="15.92" stroke-dasharray="3 100"/><circle class="s ob" r="15.92" stroke-dasharray="29 100" stroke-dashoffset="-3"/><circle class="o" r="31.83"/></g><text class="l f4" x="313" y="1099">iron complex outer membrane receptor</text></g>
<g id="sf-tonb-1"><g transform="translate(182 1000) scale(0.5655) rotate(-90)"><circle r="31.83" fill="#f6c59b"/><circle class="s gr" r="15.92" stroke-dasharray="3 100"/><circle class="s fl" r="15.92" stroke-dasharray="2 100" stroke-dashoffset="-3"/><circle class="o" r="31.83"/></g><text class="l f4" x="85" y="1004">TonB-dependent receptor</text></g>
<g id="sf-dna-rna-pol"><g transform="translate(196 1148) scale(0.5341) rotate(-90)"><circle r="31.83" fill="#f6c59b"/><circle class="s gr" r="15.92" stroke-dasharray="4 100"/><circle class="s ob" r="15.92" stroke-dasharray="21 100" stroke-dashoffset="-4"/><circle class="s fl" r="15.92" stroke-dasharray="15 100" stroke-dashoffset="-30"/><circle class="s sa" r="15.92" stroke-dasharray="6 100" stroke-dashoffset="-90"/><circle class="o" r="31.83"/></g><text class="l f4" x="12" y="1154">DNA-directed RNA polymerase subunit beta</text></g>
<g id="sf-rnap-beta"><g transform="translate(223 1292) scale(0.5341) rotate(-90)"><circle r="31.83" fill="#f6c59b"/><circle class="s ha" r="15.92" stroke-dasharray="3 100"/><circle class="s gr" r="15.92" stroke-dasharray="3 100" stroke-dashoffset="-3"/><circle class="s ob" r="15.92" stroke-dasharray="19 100" stroke-dashoffset="-6"/><circle class="s cy" r="15.92" stroke-dasharray="5 100" stroke-dashoffset="-25"/><circle class="s fl" r="15.92" stroke-dasharray="15 100" stroke-dashoffset="-30"/><circle class="s sa" r="15.92" stroke-dasharray="6 100" stroke-dashoffset="-90"/><circle class="o" r="31.83"/></g><text class="l f2" x="155" y="1300">RNAP subunit beta</text></g>
<g id="sf-l-amino-acid"><g transform="translate(485 849) scale(0.5027) rotate(-90)"><circle r="31.83" fill="#f6c59b"/><circle class="s sa" r="15.92" stroke-dasharray="26 100" stroke-dashoffset="-72"/><circle class="s gr" r="15.92" stroke-dasharray="2 100" stroke-dashoffset="-98"/><circle class="o" r="31.83"/></g><text class="l f2" x="331" y="856">L-amino acid transport system protein</text></g>
<g id="sf-cation-acetate"><g transform="translate(705 887) scale(0.4712) rotate(-90)"><circle r="31.83" fill="#c064a4"/><circle class="s gr" r="15.92" stroke-dasharray="2 100"/><circle class="s pr" r="15.92" stroke-dasharray="20 100" stroke-dashoffset="-2"/><circle class="o" r="31.83"/></g><text class="l f2" x="612" y="893">cation/acetate symporter</text></g>
<g id="sf-psi-psab"><g transform="translate(375 1443) scale(0.4712) rotate(-90)"><circle r="31.83" fill="#9e87c0"/><circle class="s oe" r="15.92" stroke-dasharray="33 100"/><circle class="s pe" r="15.92" stroke-dasharray="2 100" stroke-dashoffset="-33"/><circle class="s di" r="15.92" stroke-dasharray="2 100" stroke-dashoffset="-35"/><circle class="s cy" r="15.92" stroke-dasharray="10 100" stroke-dashoffset="-85"/><circle class="s gr" r="15.92" stroke-dasharray="5 100" stroke-dashoffset="-95"/><circle class="o" r="31.83"/></g><text class="l f2" x="275" y="1448">PSI reaction center (psaB)</text></g>
<g id="sf-fatpase-alpha"><g transform="translate(691 1353) scale(0.4712) rotate(-90)"><circle r="31.83" fill="#f6c59b"/><circle class="s oe" r="15.92" stroke-dasharray="30 100"/><circle class="s ha" r="15.92" stroke-dasharray="18 100" stroke-dashoffset="-30"/><circle class="s os" r="15.92" stroke-dasharray="7 100" stroke-dashoffset="-48"/><circle class="s ob" r="15.92" stroke-dasharray="7 100" stroke-dashoffset="-55"/><circle class="s cy" r="15.92" stroke-dasharray="4 100" stroke-dashoffset="-62"/><circle class="s sa" r="15.92" stroke-dasharray="2 100" stroke-dashoffset="-95"/><circle class="o" r="31.83"/></g><text class="l f2" x="594" y="1361">F-ATPase subunit alpha</text></g>
<g id="sf-glycine-betaine"><g transform="translate(286 888) scale(0.4398) rotate(-90)"><circle r="31.83" fill="#f6c59b"/><circle class="s sa" r="15.92" stroke-dasharray="47 100" stroke-dashoffset="-50"/><circle class="s gr" r="15.92" stroke-dasharray="3 100" stroke-dashoffset="-97"/><circle class="o" r="31.83"/></g><text class="l f2" x="93" y="897">glycine betaine/proline transport system SBP</text></g>
<g id="sf-spermidine"><g transform="translate(413 935) scale(0.4398) rotate(-90)"><circle r="31.83" fill="#f6c59b"/><circle class="s sa" r="15.92" stroke-dasharray="48 100" stroke-dashoffset="-50"/><circle class="s gr" r="15.92" stroke-dasharray="2 100" stroke-dashoffset="-98"/><circle class="o" r="31.83"/></g><text class="l f2" x="170" y="943">putative spermidine/putrescine transport system protein</text></g>
<g id="sf-multiple-sugar"><g transform="translate(318 1040) scale(0.4398) rotate(-90)"><circle r="31.83" fill="#f6c59b"/><circle class="s sa" r="15.92" stroke-dasharray="30 100" stroke-dashoffset="-65"/><circle class="s di" r="15.92" stroke-dasharray="3 100" stroke-dashoffset="-95"/><circle class="s gr" r="15.92" stroke-dasharray="2 100" stroke-dashoffset="-98"/><circle class="o" r="31.83"/></g><text class="l f2" x="160" y="1047">multiple sugar transport system protein</text></g>
<g id="sf-cox1"><g transform="translate(671 1053) scale(0.4398) rotate(-90)"><circle r="31.83" fill="#f6c59b"/><circle class="s oe" r="15.92" stroke-dasharray="24 100"/><circle class="s os" r="15.92" stroke-dasharray="6 100" stroke-dashoffset="-24"/><circle class="s pe" r="15.92" stroke-dasharray="6 100" stroke-dashoffset="-30"/><circle class="s dn" r="15.92" stroke-dasharray="22 100" stroke-dashoffset="-36"/><circle class="s ha" r="15.92" stroke-dasharray="6 100" stroke-dashoffset="-58"/><circle class="s gr" r="15.92" stroke-dasharray="4 100" stroke-dashoffset="-64"/><circle class="s os" r="15.92" stroke-dasharray="4 100" stroke-dashoffset="-96"/><circle class="o" r="31.83"/></g><text class="l f2" x="665" y="1061">COX1</text></g>
<g id="sf-tonb-2"><g transform="translate(236 1222) scale(0.4398) rotate(-90)"><circle r="31.83" fill="#f6c59b"/><circle class="s gr" r="15.92" stroke-dasharray="3 100"/><circle class="s ob" r="15.92" stroke-dasharray="30 100" stroke-dashoffset="-5"/><circle class="s fl" r="15.92" stroke-dasharray="10 100" stroke-dashoffset="-40"/><circle class="o" r="31.83"/></g><text class="l f2" x="139" y="1226">TonB-dependent receptor</text></g>
<g id="sf-hsp70"><g transform="translate(424 1257) scale(0.4398) rotate(-90)"><circle r="31.83" fill="#f6c59b"/><circle class="s oe" r="15.92" stroke-dasharray="10 100"/><circle class="s dn" r="15.92" stroke-dasharray="10 100" stroke-dashoffset="-10"/><circle class="s ob" r="15.92" stroke-dasharray="20 100" stroke-dashoffset="-20"/><circle class="s cy" r="15.92" stroke-dasharray="12 100" stroke-dashoffset="-40"/><circle class="s fl" r="15.92" stroke-dasharray="7 100" stroke-dashoffset="-55"/><circle class="s sa" r="15.92" stroke-dasharray="10 100" stroke-dashoffset="-85"/><circle class="s gr" r="15.92" stroke-dasharray="5 100" stroke-dashoffset="-95"/><circle class="o" r="31.83"/></g><text class="l f2" x="380" y="1263">Hsp70 protein</text></g>
<g id="sf-fatpase-beta"><g transform="translate(613 1281) scale(0.4398) rotate(-90)"><circle r="31.83" fill="#f6c59b"/><circle class="s oe" r="15.92" stroke-dasharray="22 100"/><circle class="s pe" r="15.92" stroke-dasharray="4 100" stroke-dashoffset="-22"/><circle class="s os" r="15.92" stroke-dasharray="22 100" stroke-dashoffset="-26"/><circle class="s ha" r="15.92" stroke-dasharray="5 100" stroke-dashoffset="-48"/><circle class="s di" r="15.92" stroke-dasharray="3 100" stroke-dashoffset="-53"/><circle class="s ob" r="15.92" stroke-dasharray="4 100" stroke-dashoffset="-56"/><circle class="s sa" r="15.92" stroke-dasharray="4 100" stroke-dashoffset="-96"/><circle class="o" r="31.83"/></g><text class="l f2" x="528" y="1288">F-ATPase subunit beta</text></g>
<g id="sf-bcaa"><g transform="translate(472 1321) scale(0.4398) rotate(-90)"><circle r="31.83" fill="#f6c59b"/><circle class="s sa" r="15.92" stroke-dasharray="27 100" stroke-dashoffset="-70"/><circle class="s di" r="15.92" stroke-dasharray="2 100" stroke-dashoffset="-97"/><circle class="o" r="31.83"/></g><text class="l f2" x="362" y="1328">BCAA transport system SBP</text></g>
<g id="sf-psii-cp43"><g transform="translate(156 1416) scale(0.4398) rotate(-90)"><circle r="31.83" fill="#ec8b1e"/><circle class="s di" r="15.92" stroke-dasharray="5 100" stroke-dashoffset="-80"/><circle class="s ha" r="15.92" stroke-dasharray="10 100" stroke-dashoffset="-85"/><circle class="s cy" r="15.92" stroke-dasharray="5 100" stroke-dashoffset="-95"/><circle class="o" r="31.83"/></g><text class="l f2" x="86" y="1422">PSII antenna (CP43)</text></g>
<g id="sf-chlorophyll-ab"><g transform="translate(694 1454) scale(0.4398) rotate(-90)"><circle r="31.83" fill="#6292c9"/><circle class="s oe" r="15.92" stroke-dasharray="22 100"/><circle class="s pe" r="15.92" stroke-dasharray="27 100" stroke-dashoffset="-28"/><circle class="s os" r="15.92" stroke-dasharray="10 100" stroke-dashoffset="-55"/><circle class="s dn" r="15.92" stroke-dasharray="5 100" stroke-dashoffset="-95"/><circle class="o" r="31.83"/></g><text class="l f2" x="561" y="1461">Chlorophyll A-B binding protein</text></g>
<g id="sf-histone-h4"><g transform="translate(796 950) scale(0.4084) rotate(-90)"><circle r="31.83" fill="#ec8b1e"/><circle class="s di" r="15.92" stroke-dasharray="6 100" stroke-dashoffset="-92"/><circle class="s gr" r="15.92" stroke-dasharray="2 100" stroke-dashoffset="-98"/><circle class="o" r="31.83"/></g><text class="l" x="760" y="954">Histone H4</text></g>
<g id="sf-psi-psaa"><g transform="translate(553 973) scale(0.4084) rotate(-90)"><circle r="31.83" fill="#9e87c0"/><circle class="s oe" r="15.92" stroke-dasharray="28 100"/><circle class="s cy" r="15.92" stroke-dasharray="25 100" stroke-dashoffset="-75"/><circle class="o" r="31.83"/></g><text class="l" x="455" y="980">PSI reaction center (psaA)</text></g>
<g id="sf-rubisco-small"><g transform="translate(737 1408) scale(0.4084) rotate(-90)"><circle r="31.83" fill="#6292c9"/><circle class="s oe" r="15.92" stroke-dasharray="20 100"/><circle class="s pe" r="15.92" stroke-dasharray="20 100" stroke-dashoffset="-20"/><circle class="s os" r="15.92" stroke-dasharray="15 100" stroke-dashoffset="-40"/><circle class="s gr" r="15.92" stroke-dasharray="5 100" stroke-dashoffset="-95"/><circle class="o" r="31.83"/></g><text class="l" x="686" y="1416">RuBisCO small chain</text></g>
<g id="sf-nitt-taut"><g transform="translate(627 1135) scale(0.377) rotate(-90)"><circle r="31.83" fill="#f6c59b"/><circle class="s sa" r="15.92" stroke-dasharray="48 100" stroke-dashoffset="-50"/><circle class="s gr" r="15.92" stroke-dasharray="2 100" stroke-dashoffset="-98"/><circle class="o" r="31.83"/></g><text class="l" x="482" y="1142">NitT/TauT family transport system SBP</text></g>
<g id="sf-tonb-plug"><g transform="translate(560 1182) scale(0.3456) rotate(-90)"><circle r="31.83" fill="#f6c59b"/><circle class="s ob" r="15.92" stroke-dasharray="17 100" stroke-dashoffset="-3"/><circle class="s sa" r="15.92" stroke-dasharray="3 100" stroke-dashoffset="-97"/><circle class="o" r="31.83"/></g><text class="l" x="408" y="1189">TonB-dependent receptor plug domain</text></g>
<g id="sf-simple-sugar"><g transform="translate(351 1387) scale(0.3456) rotate(-90)"><circle r="31.83" fill="#f6c59b"/><circle class="s gr" r="15.92" stroke-dasharray="3 100"/><circle class="s ob" r="15.92" stroke-dasharray="12 100" stroke-dashoffset="-3"/><circle class="o" r="31.83"/></g><text class="l" x="213" y="1393">simple sugar transport system SBP</text></g>

<!-- Legend: expression scale -->
<g id="legend-scale">
<circle class="sc" cx="993" cy="108" r="78"/>
<circle class="sc" cx="1114" cy="112" r="30"/>
<circle class="sc" cx="1168" cy="107" r="10"/>
<text class="h2" x="1053" y="20">Cluster expression scale</text>
<text class="sub" x="1050" y="46">(Percent of total reads in size class)</text>
<text x="997" y="120" style="font-weight:bold;font-size:28px;text-anchor:middle">3%</text>
<text x="1115" y="120" style="font-weight:bold;font-size:20px;text-anchor:middle">1%</text>
<text x="1172" y="144" style="font-weight:bold;font-size:16px;text-anchor:middle">.25%</text>
</g>

<!-- Legend: taxa -->
<g id="legend-taxa">
<text class="h2" x="1053" y="219">Cluster taxa composition</text>
<rect x="946" y="229" width="33" height="336" fill="#fff" stroke="#e4e4e4" stroke-width="4"/>
<rect x="950" y="235" width="25" height="19" fill="#3d3a8a"/><text class="lg" x="987" y="251">Archaea</text>
<rect x="950" y="257" width="25" height="19" fill="#c064a4"/><text class="lg" x="987" y="273">SAR11</text>
<rect x="950" y="279" width="25" height="19" fill="#f6c59b"/><text class="lg" x="987" y="295">Other Proteobacteria</text>
<rect x="950" y="300" width="25" height="19" fill="#b0592b"/><text class="lg" x="987" y="316">Flavobacteria</text>
<rect x="950" y="322" width="25" height="19" fill="#add8e2"/><text class="lg" x="987" y="338">Cyanobacteria</text>
<rect x="950" y="344" width="25" height="19" fill="#ee7f87"/><text class="lg" x="987" y="360">Other Bacteria</text>
<rect x="950" y="366" width="25" height="19" fill="#dd2427"/><text class="lg" x="987" y="382">Ciliophora</text>
<rect x="950" y="388" width="25" height="19" fill="#3ca744"/><text class="lg" x="987" y="404">Diatom</text>
<rect x="950" y="409" width="25" height="19" fill="#f8e45d"/><text class="lg" x="987" y="425">Dinophyta</text>
<rect x="950" y="431" width="25" height="19" fill="#154c34"/><text class="lg" x="987" y="447">Fungi</text>
<rect x="950" y="453" width="25" height="19" fill="#6292c9"/><text class="lg" x="987" y="469">Haptophyta</text>
<rect x="950" y="475" width="25" height="19" fill="#9e87c0"/><text class="lg" x="987" y="491">Ostreococcus</text>
<rect x="950" y="497" width="25" height="19" fill="#b6cb23"/><text class="lg" x="987" y="513">Pelagophyte</text>
<rect x="950" y="518" width="25" height="19" fill="#ec8b1e"/><text class="lg" x="987" y="534">Other Eukaryotes</text>
<rect x="950" y="540" width="25" height="19" fill="#fff"/><text class="lg" x="987" y="556">Virus</text>
</g>

<!-- Expression modules -->
<text class="h2" x="1060" y="603">Expression modules</text>

<g id="mod-lf0">
<text class="mt" x="1064" y="630">Large fraction module 0</text>
<text class="mt" x="1064" y="645">grey, n=16, variance explained: 26.82%</text>
<rect x="950" y="651" width="228" height="42" fill="#d7d7d3"/>
<rect x="950" y="651" width="12" height="42" fill="url(#hatch)"/><rect x="1007" y="651" width="40" height="42" fill="url(#hatch)"/><rect x="1092" y="651" width="40" height="42" fill="url(#hatch)"/><rect x="1175" y="651" width="3" height="42" fill="url(#hatch)"/>
<rect class="pf" x="950" y="651" width="228" height="42"/>
<line class="mean" x1="960" y1="680" x2="1177" y2="680"/>
<polyline class="ts" points="959,682 973,689 987,689 1001,690 1015,687 1029,687 1043,682 1057,680 1071,672 1085,653 1099,677 1113,680 1127,670 1141,680 1155,677 1169,688"/>
<use href="#ax" y="696"/>
</g>
<g id="mod-lf1">
<text class="mt" x="1064" y="736">Large fraction module 1</text>
<text class="mt" x="1064" y="751">turquoise, n=96, variance explained: 53.34%</text>
<rect x="950" y="757" width="228" height="42" fill="#cfe6e8"/>
<rect x="950" y="757" width="12" height="42" fill="url(#hatch)"/><rect x="1007" y="757" width="40" height="42" fill="url(#hatch)"/><rect x="1092" y="757" width="40" height="42" fill="url(#hatch)"/><rect x="1175" y="757" width="3" height="42" fill="url(#hatch)"/>
<rect class="pf" x="950" y="757" width="228" height="42"/>
<line class="mean" x1="960" y1="777" x2="1177" y2="777"/>
<polyline class="ts" points="959,781 973,771 987,776 1001,784 1015,783 1029,759 1043,773 1057,797 1071,786 1085,784 1099,767 1113,763 1127,775 1141,777 1155,781 1169,781"/>
<use href="#ax" y="802"/>
</g>
<g id="mod-lf2">
<text class="mt" x="1064" y="840">Large fraction module 2</text>
<text class="mt" x="1064" y="855">blue, n=63, variance explained: 53.1%</text>
<rect x="950" y="861" width="228" height="42" fill="#c4d7ea"/>
<rect x="950" y="861" width="12" height="42" fill="url(#hatch)"/><rect x="1007" y="861" width="40" height="42" fill="url(#hatch)"/><rect x="1092" y="861" width="40" height="42" fill="url(#hatch)"/><rect x="1175" y="861" width="3" height="42" fill="url(#hatch)"/>
<rect class="pf" x="950" y="861" width="228" height="42"/>
<line class="mean" x1="960" y1="879" x2="1177" y2="879"/>
<polyline class="ts" points="959,901 973,880 987,869 1001,862 1015,874 1029,898 1043,878 1057,892 1071,885 1085,880 1099,878 1113,878 1127,879 1141,863 1155,865 1169,867"/>
<use href="#ax" y="906"/>
</g>
<g id="mod-lf3">
<text class="mt" x="1064" y="944">Large fraction module 3</text>
<text class="mt" x="1064" y="959">brown, n=62, variance explained: 58.34%</text>
<rect x="950" y="965" width="228" height="42" fill="#e6c9bb"/>
<rect x="950" y="965" width="12" height="42" fill="url(#hatch)"/><rect x="1007" y="965" width="40" height="42" fill="url(#hatch)"/><rect x="1092" y="965" width="40" height="42" fill="url(#hatch)"/><rect x="1175" y="965" width="3" height="42" fill="url(#hatch)"/>
<rect class="pf" x="950" y="965" width="228" height="42"/>
<line class="mean" x1="960" y1="999" x2="1177" y2="999"/>
<polyline class="ts" points="959,996 973,1006 987,1004 1001,1000 1015,1002 1029,1004 1043,1002 1057,968 1071,997 1085,1000 1099,1002 1113,1002 1127,998 1141,1000 1155,997 1169,1002"/>
<use href="#ax" y="1010"/>
</g>
<g id="mod-lf4">
<text class="mt" x="1064" y="1048">Large fraction module 4</text>
<text class="mt" x="1064" y="1063">yellow, n=39, variance explained: 49.47%</text>
<rect x="950" y="1069" width="228" height="42" fill="#f5efb6"/>
<rect x="950" y="1069" width="12" height="42" fill="url(#hatch)"/><rect x="1007" y="1069" width="40" height="42" fill="url(#hatch)"/><rect x="1092" y="1069" width="40" height="42" fill="url(#hatch)"/><rect x="1175" y="1069" width="3" height="42" fill="url(#hatch)"/>
<rect class="pf" x="950" y="1069" width="228" height="42"/>
<line class="mean" x1="960" y1="1100" x2="1177" y2="1100"/>
<polyline class="ts" points="959,1070 973,1108 987,1108 1001,1102 1015,1093 1029,1104 1043,1107 1057,1098 1071,1096 1085,1108 1099,1105 1113,1107 1127,1093 1141,1104 1155,1096 1169,1106"/>
<use href="#ax" y="1114"/>
</g>
<g id="mod-lf5">
<text class="mt" x="1064" y="1152">Large fraction module 5</text>
<text class="mt" x="1064" y="1167">green, n=32, variance explained: 57.33%</text>
<rect x="950" y="1173" width="228" height="42" fill="#7fbf5a"/>
<rect x="950" y="1173" width="12" height="42" fill="url(#hatch)"/><rect x="1007" y="1173" width="40" height="42" fill="url(#hatch)"/><rect x="1092" y="1173" width="40" height="42" fill="url(#hatch)"/><rect x="1175" y="1173" width="3" height="42" fill="url(#hatch)"/>
<rect class="pf" x="950" y="1173" width="228" height="42"/>
<line class="mean" x1="960" y1="1194" x2="1177" y2="1194"/>
<polyline class="ts" points="959,1187 973,1175 987,1193 1001,1206 1015,1207 1029,1213 1043,1176 1057,1176 1071,1194 1085,1211 1099,1209 1113,1200 1127,1186 1141,1184 1155,1199 1169,1190"/>
<use href="#ax" y="1218"/>
</g>
<g id="mod-sf0">
<text class="mt" x="1064" y="1267">Small fraction module 0</text>
<text class="mt" x="1064" y="1282">grey, n=37, variance explained: 36.11%</text>
<rect x="950" y="1288" width="228" height="36" fill="#dadad8"/>
<rect x="950" y="1288" width="12" height="36" fill="url(#hatch)"/><rect x="1007" y="1288" width="40" height="36" fill="url(#hatch)"/><rect x="1092" y="1288" width="40" height="36" fill="url(#hatch)"/><rect x="1175" y="1288" width="3" height="36" fill="url(#hatch)"/>
<rect class="pf" x="950" y="1288" width="228" height="36"/>
<line class="mean" x1="960" y1="1311" x2="1177" y2="1311"/>
<polyline class="ts" points="987,1289 1001,1307 1015,1311 1029,1312 1043,1313 1057,1315 1071,1310 1085,1312 1099,1323 1113,1318 1127,1315 1141,1315 1155,1305"/>
<use href="#ax" y="1327"/>
</g>
<g id="mod-sf1">
<text class="mt" x="1064" y="1366">Small fraction module 1</text>
<text class="mt" x="1064" y="1381">orange, n=683, variance explained: 58.36%</text>
<rect x="950" y="1387" width="228" height="36" fill="#f6d499"/>
<rect x="950" y="1387" width="12" height="36" fill="url(#hatch)"/><rect x="1007" y="1387" width="40" height="36" fill="url(#hatch)"/><rect x="1092" y="1387" width="40" height="36" fill="url(#hatch)"/><rect x="1175" y="1387" width="3" height="36" fill="url(#hatch)"/>
<rect class="pf" x="950" y="1387" width="228" height="36"/>
<line class="mean" x1="960" y1="1410" x2="1177" y2="1410"/>
<polyline class="ts" points="987,1422 1001,1390 1015,1390 1029,1389 1043,1389 1057,1414 1071,1419 1085,1418 1099,1419 1113,1420 1127,1419 1141,1419 1155,1420"/>
<use href="#ax" y="1426"/>
</g>
<g id="mod-sf2">
<text class="mt" x="1064" y="1464">Small fraction module 2</text>
<text class="mt" x="1064" y="1479">lavender, n=30, variance explained: 69.77%</text>
<rect x="950" y="1485" width="228" height="36" fill="#c7a6d3"/>
<rect x="950" y="1485" width="12" height="36" fill="url(#hatch)"/><rect x="1007" y="1485" width="40" height="36" fill="url(#hatch)"/><rect x="1092" y="1485" width="40" height="36" fill="url(#hatch)"/><rect x="1175" y="1485" width="3" height="36" fill="url(#hatch)"/>
<rect class="pf" x="950" y="1485" width="228" height="36"/>
<line class="mean" x1="960" y1="1508" x2="1177" y2="1508"/>
<polyline class="ts" points="987,1513 1001,1497 1015,1512 1029,1510 1043,1505 1057,1505 1071,1486 1085,1513 1099,1519 1113,1519 1127,1517 1141,1510 1155,1506"/>
<use href="#ax" y="1524"/>
</g>
<text x="1064" y="1566" style="font-weight:bold;font-size:15px;text-anchor:middle">Time (hours into time course)</text>
</svg>
